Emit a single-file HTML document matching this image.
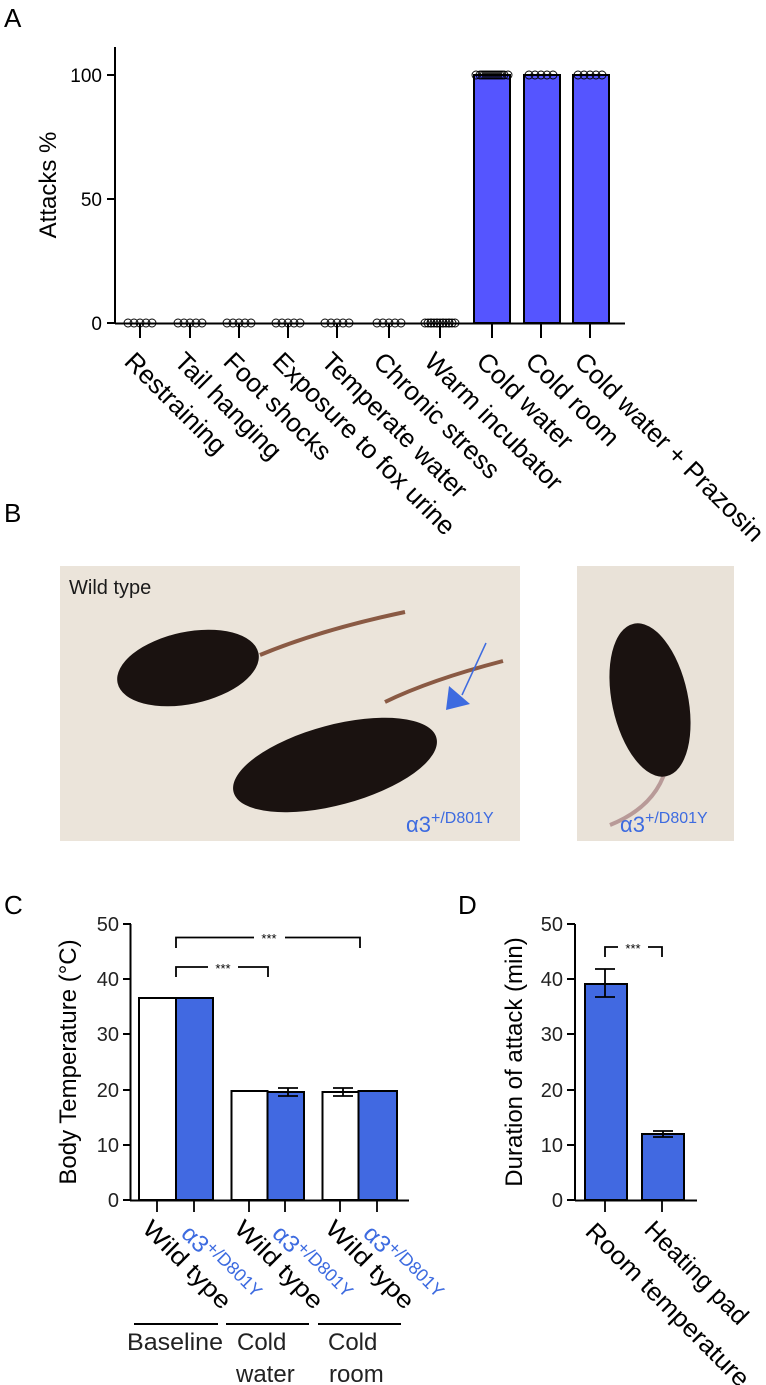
<!DOCTYPE html>
<html><head><meta charset="utf-8"><style>
html,body{margin:0;padding:0;background:#fff;}
svg{display:block;font-family:"Liberation Sans",Arial,sans-serif;}
</style></head><body>
<svg width="766" height="1385" viewBox="0 0 766 1385" xmlns="http://www.w3.org/2000/svg">
<defs>
<g id="c5" fill="none" stroke="#000" stroke-width="0.9"><circle cx="-12" cy="0" r="4"/><circle cx="-6" cy="0" r="4"/><circle cx="0" cy="0" r="4"/><circle cx="6" cy="0" r="4"/><circle cx="12" cy="0" r="4"/></g>
</defs>
<!-- Panel A -->
<text x="4" y="27" font-size="26">A</text>
<g stroke="#000" stroke-width="2" fill="none">
<line x1="115" y1="47" x2="115" y2="324"/>
<line x1="107" y1="75" x2="115" y2="75"/>
<line x1="107" y1="199" x2="115" y2="199"/>
<line x1="107" y1="323" x2="115" y2="323"/>
</g>
<g font-size="19" text-anchor="end">
<text x="102" y="82">100</text><text x="102" y="206">50</text><text x="102" y="330">0</text>
</g>
<text transform="translate(56,185) rotate(-90)" font-size="24" text-anchor="middle">Attacks %</text>
<g fill="#5555ff" stroke="#000" stroke-width="2">
<rect x="474" y="75" width="36" height="248"/>
<rect x="524" y="75" width="36" height="248"/>
<rect x="573" y="75" width="36" height="248"/>
</g>
<line x1="115" y1="323.5" x2="625" y2="323.5" stroke="#000" stroke-width="2"/>
<g stroke="#000" stroke-width="2">
<line x1="140" y1="324" x2="140" y2="338"/><line x1="190" y1="324" x2="190" y2="338"/>
<line x1="239" y1="324" x2="239" y2="338"/><line x1="288" y1="324" x2="288" y2="338"/>
<line x1="337" y1="324" x2="337" y2="338"/><line x1="389" y1="324" x2="389" y2="338"/>
<line x1="440" y1="324" x2="440" y2="338"/><line x1="492" y1="324" x2="492" y2="338"/>
<line x1="541" y1="324" x2="541" y2="338"/><line x1="590" y1="324" x2="590" y2="338"/>
</g>
<use href="#c5" x="140" y="323"/><use href="#c5" x="190" y="323"/><use href="#c5" x="239" y="323"/>
<use href="#c5" x="288" y="323"/><use href="#c5" x="337" y="323"/><use href="#c5" x="389" y="323"/>
<use href="#c5" x="440" y="323"/><use href="#c5" x="437" y="323"/><use href="#c5" x="443" y="323"/>
<use href="#c5" x="492" y="75"/><use href="#c5" x="488" y="75"/><use href="#c5" x="496" y="75"/>
<use href="#c5" x="541" y="75"/><use href="#c5" x="590" y="75"/>
<g font-size="26">
<text transform="translate(123,363) rotate(45)">Restraining</text>
<text transform="translate(173,363) rotate(45)">Tail hanging</text>
<text transform="translate(222,363) rotate(45)">Foot shocks</text>
<text transform="translate(271,363) rotate(45)">Exposure to fox urine</text>
<text transform="translate(320,363) rotate(45)">Temperate water</text>
<text transform="translate(372,363) rotate(45)">Chronic stress</text>
<text transform="translate(423,363) rotate(45)">Warm incubator</text>
<text transform="translate(475,363) rotate(45)">Cold water</text>
<text transform="translate(524,363) rotate(45)">Cold room</text>
<text transform="translate(573,363) rotate(45)">Cold water + Prazosin</text>
</g>
<!-- Panel B -->
<text x="4" y="522" font-size="26">B</text>
<rect x="60" y="566" width="460" height="275" fill="#ebe4da"/>
<rect x="577" y="566" width="157" height="275" fill="#e9e2d8"/>
<g fill="none" stroke="#8a5a44" stroke-width="4">
<path d="M260 655 Q320 630 405 612"/>
<path d="M385 702 Q430 680 503 661"/>
<path d="M668 760 Q660 805 610 825" stroke="#b89a98"/>
</g>
<g fill="#1a1210">
<ellipse cx="188" cy="668" rx="72" ry="36" transform="rotate(-12 188 668)"/>
<ellipse cx="335" cy="765" rx="105" ry="40" transform="rotate(-15 335 765)"/>
<ellipse cx="650" cy="700" rx="38" ry="78" transform="rotate(-12 650 700)"/>
</g>
<line x1="486" y1="643" x2="462" y2="695" stroke="#3d6be0" stroke-width="1.5"/>
<polygon points="449,686 470,704 446,710" fill="#3d6be0"/>
<text x="69" y="594" font-size="20" fill="#1a1a1a">Wild type</text>
<text x="406" y="832" font-size="22" fill="#3d6be0">α3<tspan font-size="16" dy="-9">+/D801Y</tspan></text>
<text x="620" y="832" font-size="22" fill="#3d6be0">α3<tspan font-size="16" dy="-9">+/D801Y</tspan></text>
<!-- Panel C -->
<text x="4" y="914" font-size="26">C</text>
<g stroke="#000" stroke-width="2">
<line x1="130.5" y1="924" x2="130.5" y2="1200"/>
<line x1="123" y1="924" x2="131" y2="924"/><line x1="123" y1="979" x2="131" y2="979"/>
<line x1="123" y1="1034" x2="131" y2="1034"/><line x1="123" y1="1090" x2="131" y2="1090"/>
<line x1="123" y1="1145" x2="131" y2="1145"/><line x1="123" y1="1200" x2="131" y2="1200"/>
</g>
<g font-size="20" text-anchor="end" fill="#222">
<text x="119" y="931">50</text><text x="119" y="986">40</text><text x="119" y="1041">30</text>
<text x="119" y="1097">20</text><text x="119" y="1152">10</text><text x="119" y="1207">0</text>
</g>
<text transform="translate(76,1062) rotate(-90)" font-size="24" text-anchor="middle">Body Temperature (°C)</text>
<g stroke="#000" stroke-width="2">
<rect x="139" y="998" width="37" height="202" fill="#fff"/>
<rect x="176" y="998" width="37" height="202" fill="#4169e1"/>
<rect x="231.5" y="1091" width="36" height="109" fill="#fff"/>
<rect x="267.5" y="1092" width="36.5" height="108" fill="#4169e1"/>
<rect x="322.5" y="1092" width="36" height="108" fill="#fff"/>
<rect x="358.5" y="1091" width="38.5" height="109" fill="#4169e1"/>
</g>
<g stroke="#000" stroke-width="1.8" fill="none">
<path d="M278 1088 h20 M288 1088 v8 M278 1096 h20"/>
<path d="M333 1088 h20 M343 1088 v8 M333 1096 h20"/>
<line x1="130" y1="1200.5" x2="409" y2="1200.5" stroke-width="2"/>
<line x1="157" y1="1201" x2="157" y2="1212"/><line x1="194" y1="1201" x2="194" y2="1212"/>
<line x1="249" y1="1201" x2="249" y2="1212"/><line x1="285" y1="1201" x2="285" y2="1212"/>
<line x1="340" y1="1201" x2="340" y2="1212"/><line x1="377" y1="1201" x2="377" y2="1212"/>
<path d="M176 948 V937.5 H254 M285 937.5 H360 V948"/>
<path d="M176 977 V967 H208 M238 967 H268 V977"/>
</g>
<g font-size="13" text-anchor="middle"><text x="269" y="943">***</text><text x="223" y="973">***</text></g>
<g font-size="24">
<text transform="translate(141,1230) rotate(45)" textLength="114" lengthAdjust="spacingAndGlyphs">Wild type</text>
<text transform="translate(233,1230) rotate(45)" textLength="114" lengthAdjust="spacingAndGlyphs">Wild type</text>
<text transform="translate(324,1230) rotate(45)" textLength="114" lengthAdjust="spacingAndGlyphs">Wild type</text>
<g fill="#3d6be0">
<text transform="translate(180,1235) rotate(45)">α3<tspan font-size="18" dy="-8">+/D801Y</tspan></text>
<text transform="translate(271,1235) rotate(45)">α3<tspan font-size="18" dy="-8">+/D801Y</tspan></text>
<text transform="translate(362,1235) rotate(45)">α3<tspan font-size="18" dy="-8">+/D801Y</tspan></text>
</g>
</g>
<g stroke="#000" stroke-width="2">
<line x1="134" y1="1324" x2="218" y2="1324"/><line x1="226" y1="1324" x2="309" y2="1324"/><line x1="318" y1="1324" x2="401" y2="1324"/>
</g>
<g font-size="24" fill="#222">
<text x="127" y="1350" textLength="96" lengthAdjust="spacingAndGlyphs">Baseline</text><text x="237" y="1350">Cold</text><text x="328" y="1350">Cold</text>
<text x="236" y="1382">water</text><text x="329" y="1382">room</text>
</g>
<!-- Panel D -->
<text x="458" y="914" font-size="26">D</text>
<g stroke="#000" stroke-width="2">
<line x1="575" y1="924" x2="575" y2="1200"/>
<line x1="567" y1="924" x2="575" y2="924"/><line x1="567" y1="979" x2="575" y2="979"/>
<line x1="567" y1="1034" x2="575" y2="1034"/><line x1="567" y1="1090" x2="575" y2="1090"/>
<line x1="567" y1="1145" x2="575" y2="1145"/><line x1="567" y1="1200" x2="575" y2="1200"/>
</g>
<g font-size="20" text-anchor="end" fill="#222">
<text x="563" y="931">50</text><text x="563" y="986">40</text><text x="563" y="1041">30</text>
<text x="563" y="1097">20</text><text x="563" y="1152">10</text><text x="563" y="1207">0</text>
</g>
<text transform="translate(522,1062) rotate(-90)" font-size="24" text-anchor="middle">Duration of attack (min)</text>
<g stroke="#000" stroke-width="2" fill="#4169e1">
<rect x="585" y="984" width="42" height="216"/>
<rect x="642" y="1134" width="42" height="66"/>
</g>
<g stroke="#000" stroke-width="1.8" fill="none">
<path d="M595 969 h20 M605 969 v28 M595 997 h20"/>
<path d="M653 1131 h20 M663 1131 v6 M653 1137 h20"/>
<line x1="575" y1="1200.5" x2="697" y2="1200.5" stroke-width="2"/>
<line x1="605" y1="1201" x2="605" y2="1212"/><line x1="662" y1="1201" x2="662" y2="1212"/>
<path d="M605 957 V947 H618 M648 947 H662 V957"/>
</g>
<text x="633" y="953" font-size="13" text-anchor="middle">***</text>
<g font-size="25">
<text transform="translate(584,1233) rotate(45)" textLength="220" lengthAdjust="spacingAndGlyphs">Room temperature</text>
<text transform="translate(643,1231) rotate(45)">Heating pad</text>
</g>
</svg>
</body></html>
